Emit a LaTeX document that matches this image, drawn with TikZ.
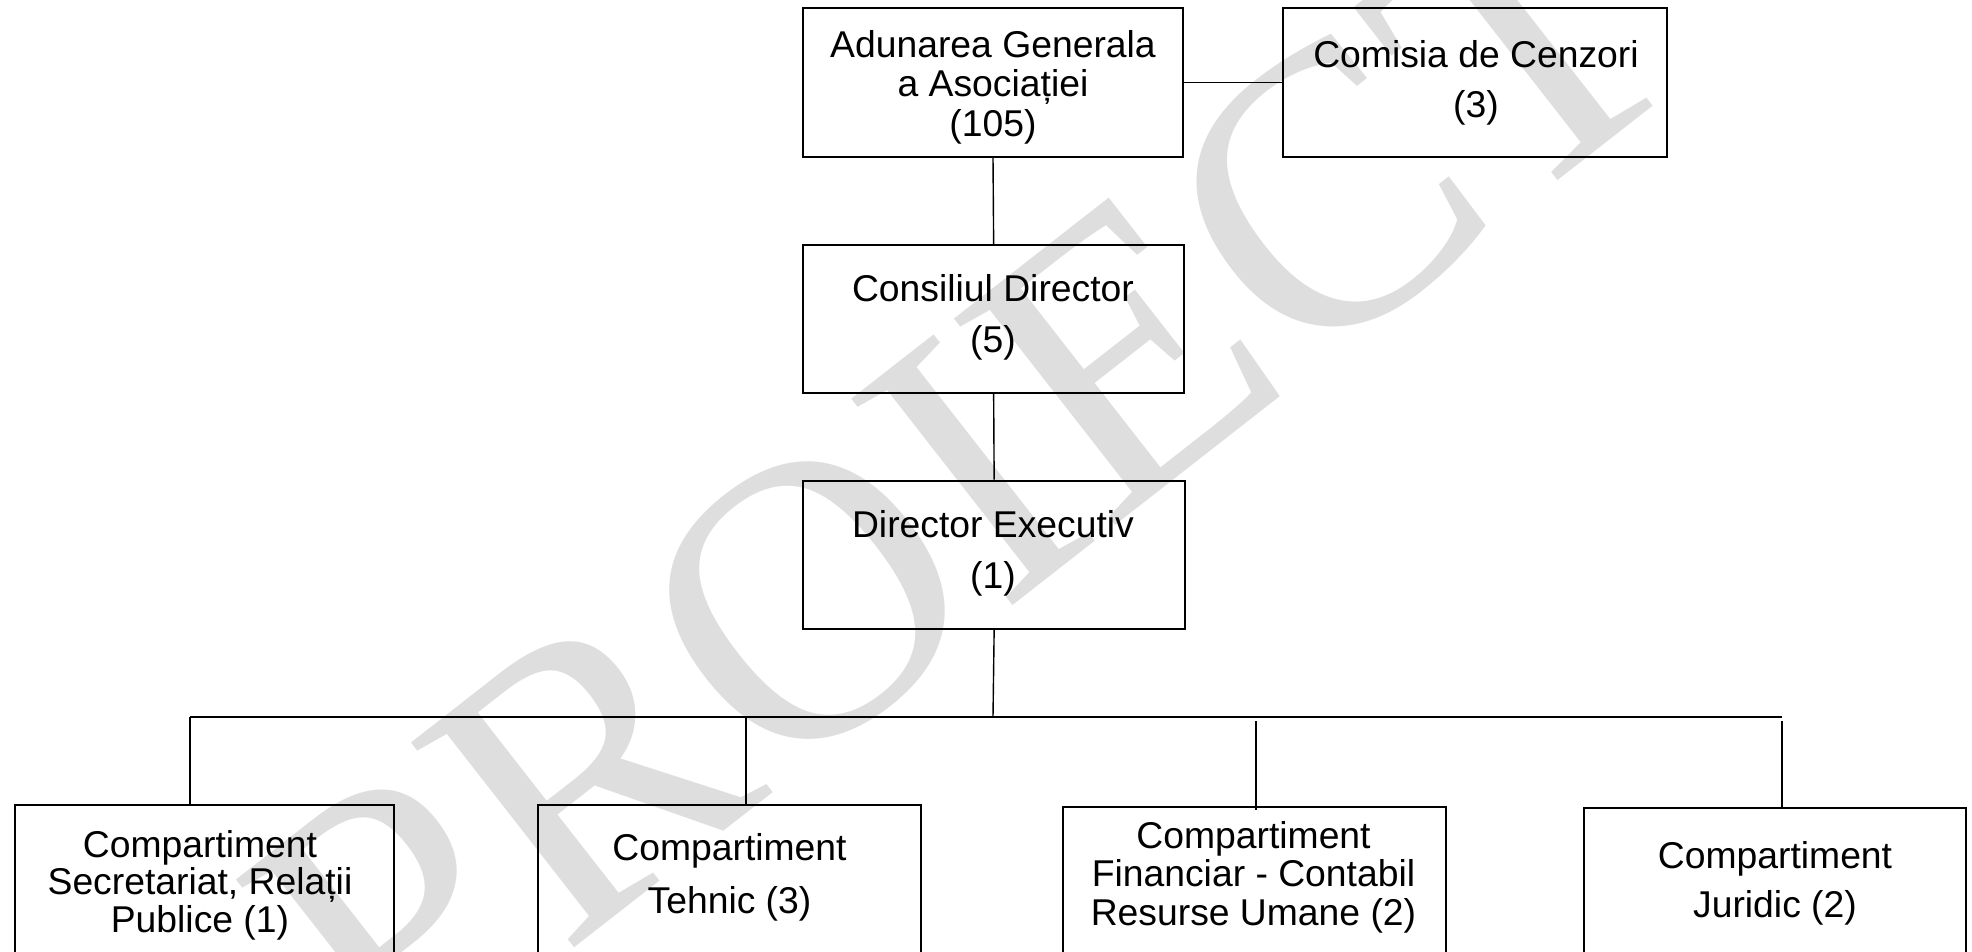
\documentclass[tikz,border=0pt]{standalone}
\usepackage{fontspec}
\setmainfont{Liberation Sans}
\newfontfamily\wmfont{Liberation Serif}
\usetikzlibrary{fit}
\begin{document}
\begin{tikzpicture}[x=0.5pt,y=-0.5pt,
  box/.style={draw=black, line width=1pt, rectangle, inner sep=0pt},
  txt/.style={inner sep=0pt, align=center, anchor=north},
  conn/.style={draw=black, line width=0.7pt},
  bus/.style={draw=black, line width=1pt},
  wm/.style={text=black!13, inner sep=0pt, font=\wmfont\fontsize{200}{200}\selectfont}]
\useasboundingbox (0,0) rectangle (1972,952);
\clip (0,0) rectangle (1972,952);
% watermark
\node[wm, rotate=38] (wm) at (965,478) {PROIECT};
% boxes
\node[box, fit={(803.3,8.3) (1182.7,156.7)}] (adun) {};
\node[box, fit={(1283.3,8.3) (1666.7,156.7)}] (cenz) {};
\node[box, fit={(803.3,245) (1184,393)}] (cons) {};
\node[box, fit={(803.3,480.7) (1185,628.7)}] (dir) {};
\node[box, fit={(15,805) (394.3,1010)}] (c1) {};
\node[box, fit={(538.3,805) (920.7,1010)}] (c2) {};
\node[box, fit={(1063.3,806.7) (1445.7,1010)}] (c3) {};
\node[box, fit={(1584,808) (1965.5,1010)}] (c4) {};
% texts
\node[txt, font=\fontsize{18.65}{19.8}\selectfont] (adunT) at (993,29.7) {Adunarea Generala\\a Asociației\\(105)};
\node[txt, font=\fontsize{18.65}{25}\selectfont] (cenzT) at (1476,39.7) {Comisia de Cenzori\\(3)};
\node[txt, font=\fontsize{18.65}{25.7}\selectfont] (consT) at (993,274) {Consiliul Director\\(5)};
\node[txt, font=\fontsize{18.65}{25.5}\selectfont] (dirT) at (993,510.3) {Director Executiv\\(1)};
\node[txt, font=\fontsize{18.65}{18.75}\selectfont] (c1T) at (200,829.7) {Compartiment\\Secretariat, Relații\\Publice (1)};
\node[txt, font=\fontsize{18.65}{26.6}\selectfont] (c2T) at (729.5,833) {Compartiment\\Tehnic (3)};
\node[txt, font=\fontsize{18.65}{19.25}\selectfont] (c3T) at (1253.5,821) {Compartiment\\Financiar - Contabil\\Resurse Umane (2)};
\node[txt, font=\fontsize{18.65}{24.5}\selectfont] (c4T) at (1775,841) {Compartiment\\Juridic (2)};
% connectors
\coordinate (busL) at (190,716.7);
\coordinate (busM) at (993,716.7);
\coordinate (busT) at (746,716.7);
\coordinate (busR) at (1782,716.7);
\coordinate (dF) at (1256,721);
\coordinate (dR) at (1782,721);
\draw[conn] (adun.east) -- (cenz.west);
\draw[conn] (adun.south) -- (cons.north);
\draw[conn] (cons.south) -- (dir.north);
\draw[conn] (dir.south) -- (busM);
\draw[bus] (busL) -- (busR);
\draw[conn] (busL) -- (busL |- c1.north);
\draw[conn] (busT) -- (busT |- c2.north);
\draw[conn] (dF) -- ([yshift=-2pt]dF |- c3.north);
\draw[conn] (dR) -- (dR |- c4.north);
\end{tikzpicture}
\end{document}
